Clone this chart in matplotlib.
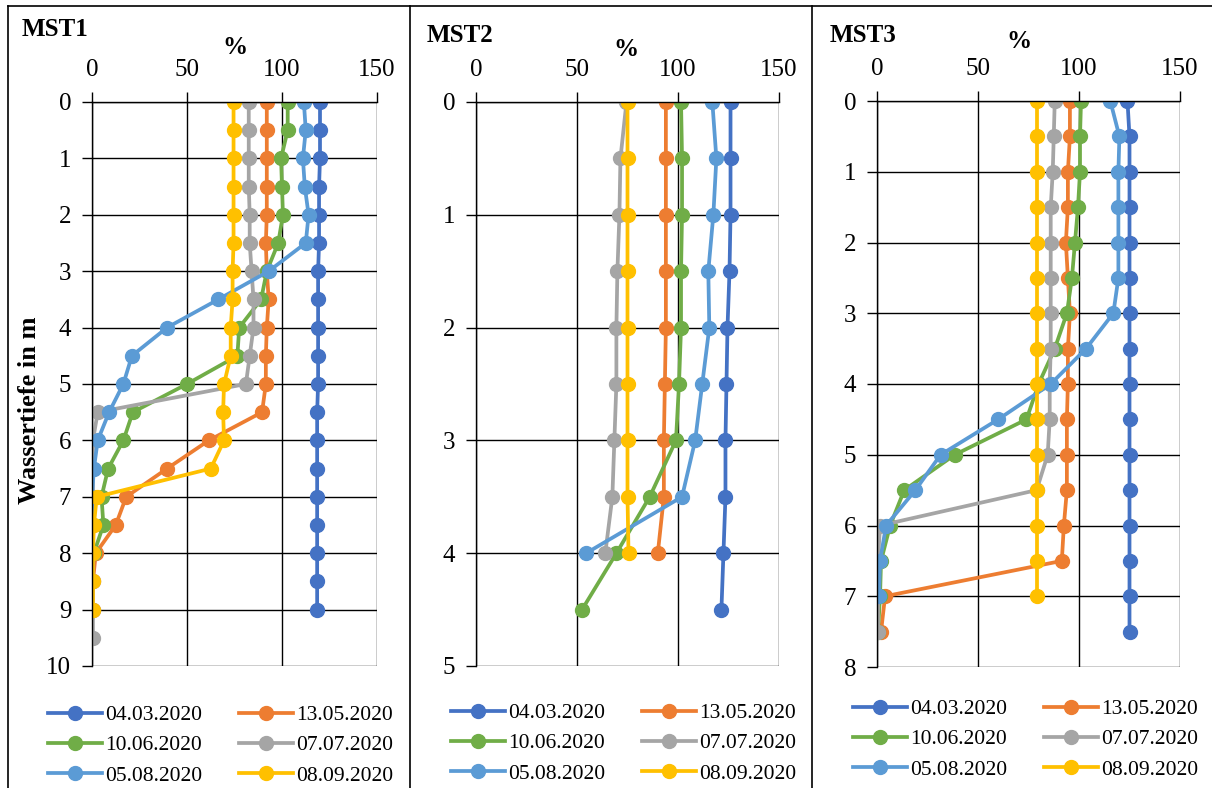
import numpy as np
import matplotlib.pyplot as plt
from matplotlib.lines import Line2D

plt.rcParams['font.family'] = ['Liberation Serif', 'DejaVu Serif']

dates = ["04.03.2020", "13.05.2020", "10.06.2020", "07.07.2020", "05.08.2020", "08.09.2020"]
colors = ["#4472C4", "#ED7D31", "#70AD47", "#A5A5A5", "#5B9BD5", "#FFC000"]

# MST1 values (%), depth steps of 0.5 m starting at 0
mst1 = [
    [120, 120, 120, 119.5, 119.5, 119.5, 119, 119, 119, 119, 119, 118.5, 118.5, 118.5, 118.5, 118.5, 118.5, 118.5, 118.5],
    [92, 92, 92, 92, 92, 91.5, 92, 93, 92, 91.5, 91.5, 89.5, 61.5, 39.5, 18, 12.5, 2, 0.5, 0.5],
    [103, 103, 99.5, 100, 100.5, 98, 92, 89, 77.5, 76.5, 50, 21.5, 16.5, 8.5, 5, 6, 1],
    [82.5, 82.5, 82.5, 82.5, 83, 83, 84, 85, 85, 83, 81, 3, 0.5, 0.5, 0.5, 0.5, 0.5, 0.5, 0.5, 0.5],
    [111.5, 112.5, 111, 112, 114, 112.5, 93, 66.5, 39.5, 21, 16.5, 9, 3, 1, 0, 0],
    [74.5, 74.5, 74.5, 74.5, 74.5, 74.5, 74, 74, 73, 73, 69.5, 69, 69.5, 62.5, 2.5, 1, 0.5, 0.5, 0.5],
]
mst2 = [
    [126, 126, 126, 125.5, 124.5, 124, 123.5, 123.5, 122.5, 121.5],
    [94, 94, 94, 94, 94, 93.5, 93, 93, 90],
    [101.5, 102, 102, 101.5, 101.5, 100.5, 99, 86, 69.5, 52.5],
    [74.5, 71.5, 71, 70, 69.5, 69.5, 68.5, 67.5, 64],
    [117, 119, 117.5, 115, 115.5, 112, 108.5, 102, 54.5],
    [75, 75, 75, 75, 75, 75, 75, 75, 75.5],
]
mst3 = [
    [124, 125, 125, 125, 125, 125, 125, 125, 125, 125, 125, 125, 125, 125, 125, 125],
    [95.5, 95.5, 94.5, 94.5, 93.5, 94.5, 95.5, 94.5, 94.5, 94, 94, 94, 92.5, 91.5, 4, 2],
    [101, 100.5, 100.5, 99.5, 98, 96.5, 94, 88, 80, 74, 38.5, 13.5, 6.5, 2, 1.5, 0.5],
    [88, 87.5, 87, 86, 86, 86, 86, 86, 85.5, 85.5, 84.5, 79, 1.5, 0.5, 0.5, 0.5],
    [115.5, 120, 119.5, 119.5, 119.5, 119.5, 117, 103.5, 86, 60, 31.5, 19, 4.5, 1.5, 1],
    [79, 79, 79, 79, 79, 79, 79, 79, 79, 79, 79, 79, 79, 79, 79],
]

W, H = 1212, 788
fig = plt.figure(figsize=(W / 100, H / 100), dpi=100)


def fx(px):
    return px / W


def fy(py):
    return 1 - py / H


panels = [
    ("MST1", mst1, 10, (92, 377, 102, 666), (22, 30), (235, 47), 713, 48),
    ("MST2", mst2, 5, (476, 779, 102, 666), (427, 35), (626, 50), 711, 451),
    ("MST3", mst3, 8, (877, 1180, 101, 667), (830, 35), (1019, 42), 707, 853),
]

for name, data, ymax, box, tpos, ppos, row0, lx in panels:
    x0, x1, y0, y1 = box
    ax = fig.add_axes([fx(x0), fy(y1), fx(x1) - fx(x0), fy(y0) - fy(y1)])
    handles = []
    for vals, c, lab in zip(data, colors, dates):
        depth = np.arange(len(vals)) * 0.5
        h, = ax.plot(vals, depth, color=c, lw=2.7, marker='o', ms=10, label=lab)
        handles.append(h)
    ax.set_xlim(0, 150)
    ax.set_ylim(ymax, 0)
    ax.set_xticks([0, 50, 100, 150])
    ax.set_yticks(range(0, ymax + 1))
    ax.xaxis.tick_top()
    ax.tick_params(axis='both', labelsize=18, length=7, width=1, color='black', pad=8)
    ax.tick_params(axis='x', top=True, bottom=False)
    ax.grid(True, color='black', lw=1)
    for s in ax.spines.values():
        s.set_linewidth(1)
    ax.spines['bottom'].set_visible(False)
    ax.spines['right'].set_visible(False)
    ax.set_axisbelow(True)

    fig.text(fx(tpos[0]), fy(tpos[1]), name, fontsize=18, fontweight='bold', va='center', ha='left')
    fig.text(fx(ppos[0]), fy(ppos[1]), "%", fontsize=18, fontweight='bold', va='center', ha='center')

    order = [0, 2, 4, 1, 3, 5]
    ax.legend([handles[k] for k in order], [dates[k] for k in order], ncol=2,
              loc='upper left', bbox_to_anchor=(fx(lx), fy(row0 - 8)),
              bbox_transform=fig.transFigure, frameon=False, fontsize=15.5,
              handlelength=2.5, handletextpad=0.15, columnspacing=1.7,
              labelspacing=0.48, numpoints=1, borderpad=0, borderaxespad=0)

fig.text(fx(30), fy(410), "Wassertiefe in m", fontsize=19, fontweight='bold',
         rotation=90, va='center', ha='center')

# panel frames
for xp in [8, 410, 812]:
    fig.add_artist(Line2D([fx(xp), fx(xp)], [0, fy(6)], color='black', lw=1.2))
fig.add_artist(Line2D([fx(8), 1], [fy(6), fy(6)], color='black', lw=1.2))

fig.savefig('out.png', dpi=100)
